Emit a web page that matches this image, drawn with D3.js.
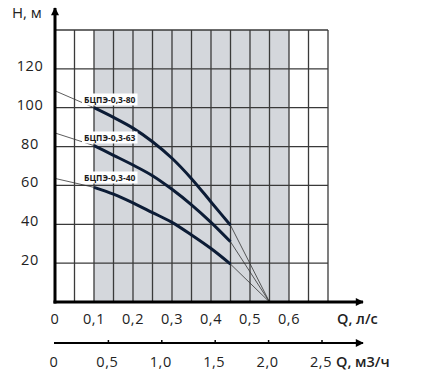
<!DOCTYPE html>
<html>
<head>
<meta charset="utf-8">
<script src="https://cdn.jsdelivr.net/npm/d3@7"></script>
<style>
  html, body { margin: 0; padding: 0; background: #fff; }
  svg { display: block; font-family: "Open Sans", sans-serif; }
</style>
</head>
<body>
<svg id="chart"></svg>
<script>
// размеры окна
var w = 423;
var h = 376;

// данные (Q в л/с, H в м)
var series = ["БЦПЭ-0,3-80", "БЦПЭ-0,3-63", "БЦПЭ-0,3-40"];
var flowQ = [0.1, 0.15, 0.2, 0.25, 0.3, 0.35, 0.4, 0.45];
var head80 = [100, 95, 89.5, 82.5, 74, 63.5, 51.5, 39.5];
var head63 = [80.5, 75.5, 70.5, 65, 58, 50, 41, 31];
var head40 = [59, 55.5, 51, 46, 41, 34.5, 27.5, 19.5];
var headAtZero = [108.7, 87, 63.6];   // тонкая линия слева, H при Q = 0
var zeroHeadQ = 0.55;                  // все кривые сходятся сюда при H = 0
var workRange = [0.1, 0.6];            // серая зона

var qTicks = [0, 0.1, 0.2, 0.3, 0.4, 0.5, 0.6];
var m3Ticks = [0, 0.5, 1.0, 1.5, 2.0, 2.5];
var hTicks = [20, 40, 60, 80, 100, 120];

var ru = d3.formatLocale({decimal: ",", thousands: " ", grouping: [3], currency: ["", ""]});

var svg = d3.select("#chart").attr("width", w).attr("height", h);

var x = d3.scaleLinear().domain([0, 0.7]).range([55, 328]);
var y = d3.scaleLinear().domain([0, 140]).range([302, 30]);
var x2 = d3.scaleLinear().domain([0, 2.5]).range([55, 322]);

var gridColor = "#3a3a3a";
var curveColor = "#0c1c36";

// серая рабочая зона
svg.append("rect")
  .attr("x", x(workRange[0]))
  .attr("y", y(140))
  .attr("width", x(workRange[1]) - x(workRange[0]))
  .attr("height", y(0) - y(140))
  .attr("fill", "#d4d7dc");

// сетка
svg.append("g")
  .selectAll("line")
  .data(d3.range(1, 15).map(i => i * 0.05))
  .join("line")
  .attr("x1", d => x(d)).attr("x2", d => x(d))
  .attr("y1", y(0)).attr("y2", y(140))
  .attr("stroke", gridColor).attr("stroke-width", 1.3);

svg.append("g")
  .selectAll("line")
  .data(d3.range(1, 8).map(i => i * 20))
  .join("line")
  .attr("x1", x(0)).attr("x2", x(0.7))
  .attr("y1", d => y(d)).attr("y2", d => y(d))
  .attr("stroke", gridColor).attr("stroke-width", 1.3);

// кривые
var heads = [head80, head63, head40];
var line = d3.line()
  .x(d => x(d[0]))
  .y(d => y(d[1]))
  .curve(d3.curveMonotoneX);

heads.forEach((hs, i) => {
  var pts = flowQ.map((q, j) => [q, hs[j]]);
  var first = pts[0], last = pts[pts.length - 1];
  // тонкие продолжения
  svg.append("line")
    .attr("x1", x(0)).attr("y1", y(headAtZero[i]))
    .attr("x2", x(first[0])).attr("y2", y(first[1]))
    .attr("stroke", "#333").attr("stroke-width", 0.8);
  svg.append("line")
    .attr("x1", x(last[0])).attr("y1", y(last[1]))
    .attr("x2", x(zeroHeadQ)).attr("y2", y(0))
    .attr("stroke", "#333").attr("stroke-width", 0.8);
  svg.append("path")
    .attr("d", line(pts))
    .attr("fill", "none")
    .attr("stroke", curveColor)
    .attr("stroke-width", 3);
});

// подписи кривых
var labelY = [103, 141, 181];
series.forEach((s, i) => {
  var g = svg.append("g");
  var t = g.append("text")
    .attr("x", 84)
    .attr("y", labelY[i])
    .style("font-size", "8.5px")
    .style("font-weight", 700)
    .attr("fill", "#1a1a1a")
    .text(s);
  var bb = t.node().getBBox();
  g.insert("rect", "text")
    .attr("x", bb.x - 2).attr("y", bb.y - 0.5)
    .attr("width", bb.width + 4).attr("height", bb.height + 1)
    .attr("fill", "#fff");
});

// стрелки
var defs = svg.append("defs");
defs.append("marker")
  .attr("id", "arrow")
  .attr("viewBox", "0 0 10 10")
  .attr("refX", 9).attr("refY", 5)
  .attr("markerWidth", 10).attr("markerHeight", 8)
  .attr("markerUnits", "userSpaceOnUse")
  .attr("orient", "auto")
  .append("path")
  .attr("d", "M0,0 L10,5 L0,10 Z")
  .attr("fill", "#000");

// ось H
svg.append("line")
  .attr("x1", x(0)).attr("y1", y(0) + 1.5)
  .attr("x2", x(0)).attr("y2", 8)
  .attr("stroke", "#000").attr("stroke-width", 3)
  .attr("marker-end", "url(#arrow)");

// ось Q, л/с
svg.append("line")
  .attr("x1", x(0) - 1.5).attr("y1", y(0))
  .attr("x2", 363).attr("y2", y(0))
  .attr("stroke", "#000").attr("stroke-width", 3)
  .attr("marker-end", "url(#arrow)");

// ось Q, м3/ч
svg.append("line")
  .attr("x1", x2(0) - 1).attr("y1", 343)
  .attr("x2", 363).attr("y2", 343)
  .attr("stroke", "#000").attr("stroke-width", 2)
  .attr("marker-end", "url(#arrow)");

svg.append("g")
  .selectAll("line")
  .data(m3Ticks.slice(1))
  .join("line")
  .attr("x1", d => x2(d)).attr("x2", d => x2(d))
  .attr("y1", 340).attr("y2", 344)
  .attr("stroke", "#000").attr("stroke-width", 1.5);

// подписи делений
var fmt = d => d === 0 ? "0" : ru.format(".1f")(d);
var tickFont = "14.5px";

svg.append("g")
  .selectAll("text")
  .data(hTicks)
  .join("text")
  .attr("x", 30)
  .attr("y", d => y(d) + 2)
  .attr("text-anchor", "middle")
  .style("font-size", tickFont)
  .style("letter-spacing", "0.6px")
  .attr("fill", "#222")
  .text(d => d);

svg.append("g")
  .selectAll("text")
  .data(qTicks)
  .join("text")
  .attr("x", d => x(d))
  .attr("y", 324)
  .attr("text-anchor", "middle")
  .style("font-size", tickFont)
  .style("letter-spacing", "0.6px")
  .attr("fill", "#222")
  .text(fmt);

svg.append("g")
  .selectAll("text")
  .data(m3Ticks)
  .join("text")
  .attr("x", d => x2(d) - 1)
  .attr("y", 367)
  .attr("text-anchor", "middle")
  .style("font-size", tickFont)
  .style("letter-spacing", "0.6px")
  .attr("fill", "#222")
  .text(fmt);

// названия осей
svg.append("text")
  .attr("x", 12).attr("y", 18)
  .style("font-size", "15px")
  .attr("fill", "#222")
  .text("H, м");

svg.append("text")
  .attr("x", 337).attr("y", 324)
  .style("font-size", "14.5px")
  .style("font-weight", 600)
  .attr("fill", "#222")
  .text("Q, л/с");

svg.append("text")
  .attr("x", 336).attr("y", 367)
  .style("font-size", "14.5px")
  .style("font-weight", 600)
  .attr("fill", "#222")
  .text("Q, м3/ч");
</script>
</body>
</html>
